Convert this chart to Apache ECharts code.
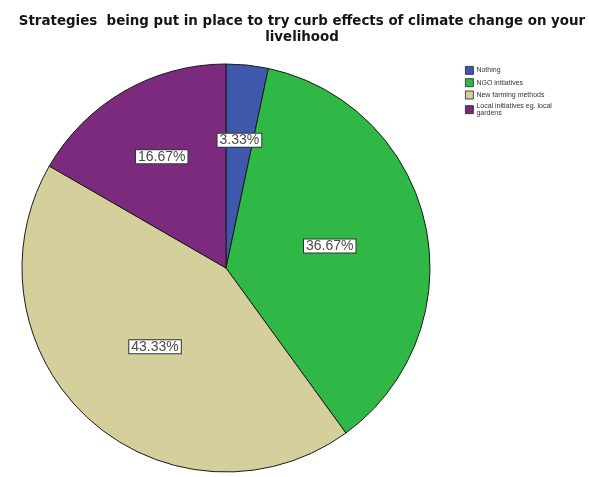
<!DOCTYPE html>
<html>
<head>
<meta charset="utf-8">
<script src="https://cdn.jsdelivr.net/npm/echarts@6/dist/echarts.min.js"></script>
<style>
  html, body { margin: 0; padding: 0; background: #fff; }
  #chart { width: 589px; height: 477px; }
</style>
</head>
<body>
<div id="chart"></div>
<script>
// Strategy categories and their shares of responses (%)
const categories = ['Nothing', 'NGO initiatives', 'New farming methods', 'Local initiatives eg. local\ngardens'];
const shares = [3.33, 36.67, 43.33, 16.67];
const colors = ['#3e58ac', '#2fb845', '#d5cf9b', '#7c2a7e'];

const pieCenter = [226, 268];
const pieRadius = 204;

const chart = echarts.init(document.getElementById('chart'));
chart.setOption({
  animation: false,
  backgroundColor: '#fff',
  title: {
    text: 'Strategies  being put in place to try curb effects of climate change on your\nlivelihood',
    left: 297,
    textAlign: 'center',
    top: 9,
    textStyle: {
      fontFamily: 'DejaVu Sans, sans-serif',
      fontWeight: 'bold',
      fontSize: 13.4,
      lineHeight: 16,
      color: '#151515'
    }
  },
  legend: {
    orient: 'vertical',
    left: 460,
    top: 61,
    itemWidth: 8,
    itemHeight: 8,
    itemGap: 3.5,
    icon: 'rect',
    itemStyle: { borderColor: '#222', borderWidth: 0.8 },
    textStyle: {
      fontFamily: 'Liberation Sans, Arial, sans-serif',
      fontSize: 7,
      lineHeight: 6.5,
      color: '#333',
      padding: [0, 0, 0, -2]
    },
    data: categories
  },
  series: [{
    type: 'pie',
    center: pieCenter,
    radius: pieRadius,
    startAngle: 90,
    clockwise: true,
    avoidLabelOverlap: false,
    itemStyle: { borderColor: '#1b1b1b', borderWidth: 1 },
    label: {
      position: 'inside',
      formatter: p => p.value.toFixed(2) + '%',
      fontFamily: 'Liberation Sans, Arial, sans-serif',
      fontSize: 14,
      color: '#4a4a4a',
      backgroundColor: '#fff',
      borderColor: '#333',
      borderWidth: 1,
      padding: [0, 2, -1, 2]
    },
    // narrow slices get their value box pushed further out along the slice
    labelLayout: function (params) {
      const r = params.labelRect;
      const lx = r.x + r.width / 2 - pieCenter[0];
      const ly = r.y + r.height / 2 - pieCenter[1];
      const d = Math.sqrt(lx * lx + ly * ly) || 1;
      const frac = shares[params.dataIndex] < 20 ? 0.63 : 0.52;
      const k = frac * pieRadius / d;
      return { x: pieCenter[0] + lx * k, y: pieCenter[1] + ly * k };
    },
    labelLine: { show: false },
    data: categories.map((name, i) => ({
      name: name,
      value: shares[i],
      itemStyle: { color: colors[i] }
    }))
  }]
});
</script>
</body>
</html>
